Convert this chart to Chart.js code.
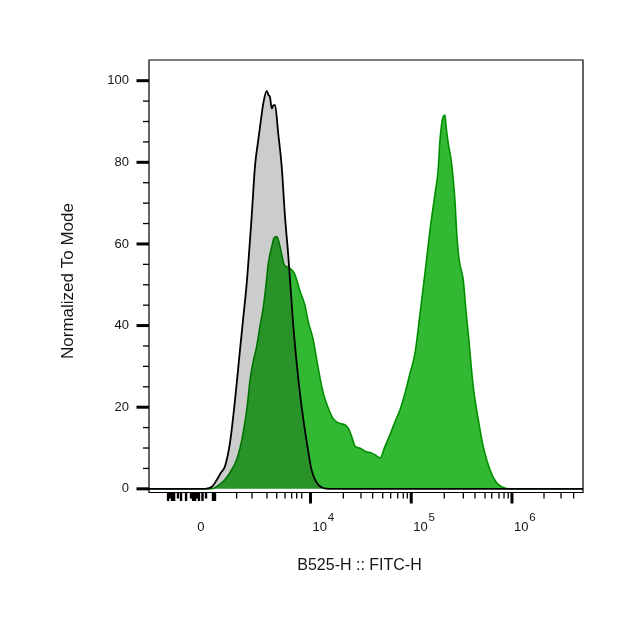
<!DOCTYPE html>
<html><head><meta charset="utf-8">
<script src="https://cdn.jsdelivr.net/npm/chart.js@4.4.1/dist/chart.umd.min.js"></script>
<style>html,body{margin:0;padding:0;background:#fff;}#wrap{width:644px;height:634px;}</style>
</head><body><div id="wrap"><canvas id="c" width="644" height="634"></canvas></div>
<script>
// x positions are in display (biexponential) units: 4 = 10^4, 5 = 10^5, 6 = 10^6
const xTickPos = [2.913, 4, 5, 6];
const xTickBase = ["0", "10", "10", "10"];
const xTickExp = ["", "4", "5", "6"];
const xMinorPos = [3.267, 3.419, 3.568, 3.665, 3.747, 3.813, 3.863, 3.913,
  4.326, 4.501, 4.617, 4.717, 4.796, 4.866, 4.921, 4.961,
  5.328, 5.517, 5.633, 5.732, 5.799, 5.871, 5.921, 5.963,
  6.318, 6.487, 6.612];
const xClusterPos = [2.586, 2.606, 2.626, 2.646, 2.685, 2.715, 2.765, 2.814, 2.834, 2.854, 2.874, 2.893, 2.928, 2.963, 3.032, 3.052];
const yTickVals = [0, 20, 40, 60, 80, 100];
const yMinorVals = [5, 10, 15, 25, 30, 35, 45, 50, 55, 65, 70, 75, 85, 90, 95];
const xTitle = "B525-H :: FITC-H";
const yTitle = "Normalized To Mode";

const grayX = [2.397, 2.953, 3.022, 3.072, 3.112, 3.151, 3.201, 3.251, 3.300, 3.333, 3.367, 3.416, 3.449, 3.479, 3.499, 3.532, 3.565, 3.583, 3.598, 3.615, 3.633, 3.648, 3.680, 3.714, 3.747, 3.780, 3.829, 3.879, 3.929, 3.975, 4.012, 4.062, 4.124, 4.194, 6.705];
const grayY = [0, 0, 0.5, 2.3, 4, 5.5, 11.3, 21.8, 34, 42, 50.4, 66.7, 79, 85, 88.7, 94.5, 97.5, 96.5, 96, 93.2, 94, 94, 87, 79, 66.7, 57, 40, 27, 17, 9.6, 4.5, 1.5, 0.2, 0, 0];

const greenX = [2.397, 3.022, 3.082, 3.151, 3.201, 3.267, 3.300, 3.333, 3.370, 3.400, 3.429, 3.466, 3.499, 3.532, 3.558, 3.581, 3.615, 3.638, 3.665, 3.687, 3.714, 3.737, 3.757, 3.787, 3.813, 3.846, 3.896, 3.945, 3.978, 4.028, 4.074, 4.127, 4.174, 4.226, 4.276, 4.342, 4.372, 4.409, 4.442, 4.491, 4.541, 4.607, 4.650, 4.690, 4.739, 4.789, 4.839, 4.888, 4.938, 4.988, 5.037, 5.087, 5.136, 5.186, 5.236, 5.266, 5.285, 5.305, 5.318, 5.335, 5.350, 5.368, 5.401, 5.434, 5.454, 5.477, 5.517, 5.543, 5.566, 5.616, 5.666, 5.715, 5.782, 5.848, 5.911, 5.980, 6.705];
const greenY = [0, 0, 0.8, 2.3, 4, 7.2, 10, 14, 20, 26.8, 31, 35, 40, 44.7, 50, 55.3, 59.4, 61.5, 61.8, 60.5, 57.5, 55, 54.5, 54.2, 53.7, 52.5, 48.5, 45, 41, 36.5, 30, 23.5, 20, 17.2, 16.2, 15.7, 15, 12.9, 10.5, 10, 9.2, 8.8, 8.2, 7.6, 10.4, 13.3, 16.5, 19.4, 23.5, 28.4, 33.3, 43, 52.9, 63.5, 72.4, 78, 85.5, 90, 91.2, 91.6, 88, 84.7, 79.8, 70.8, 62, 56, 51.2, 44, 38.2, 25.1, 17, 10.4, 4.7, 1.5, 0.4, 0, 0];

const FONT = "'Liberation Sans', Arial, Helvetica, sans-serif";
const TXT = '#151515';

const deco = {
  id: 'deco',
  beforeDatasetsDraw(chart) { chart.ctx.save(); chart.ctx.globalCompositeOperation = 'multiply'; },
  afterDatasetsDraw(chart) { chart.ctx.restore(); },
  afterDraw(chart) {
    const ctx = chart.ctx, a = chart.chartArea;
    const xs = chart.scales.x, ys = chart.scales.y;
    ctx.save();
    ctx.strokeStyle = '#000';
    // frame
    ctx.lineWidth = 1.2;
    ctx.beginPath();
    ctx.moveTo(a.left, a.top); ctx.lineTo(a.right, a.top); ctx.lineTo(a.right, a.bottom);
    ctx.lineTo(a.left, a.bottom); ctx.closePath(); ctx.stroke();
    // y ticks
    yTickVals.forEach(v => { const y = ys.getPixelForValue(v); ctx.lineWidth = 3; ctx.beginPath(); ctx.moveTo(a.left - 12.5, y); ctx.lineTo(a.left, y); ctx.stroke(); });
    yMinorVals.forEach(v => { const y = ys.getPixelForValue(v); ctx.lineWidth = 1.3; ctx.beginPath(); ctx.moveTo(a.left - 6, y); ctx.lineTo(a.left, y); ctx.stroke(); });
    // x ticks
    xTickPos.slice(1).forEach(v => { const x = xs.getPixelForValue(v); ctx.lineWidth = 3; ctx.beginPath(); ctx.moveTo(x, a.bottom); ctx.lineTo(x, a.bottom + 11); ctx.stroke(); });
    xMinorPos.forEach(v => { const x = xs.getPixelForValue(v); ctx.lineWidth = 1.3; ctx.beginPath(); ctx.moveTo(x, a.bottom); ctx.lineTo(x, a.bottom + 6); ctx.stroke(); });
    xClusterPos.forEach((v, i) => { const x = xs.getPixelForValue(v); ctx.lineWidth = 2.4; ctx.beginPath(); ctx.moveTo(x, a.bottom); ctx.lineTo(x, a.bottom + (i % 3 === 1 ? 6 : 8.5)); ctx.stroke(); });
    // x labels
    ctx.fillStyle = TXT;
    ctx.textBaseline = 'alphabetic';
    xTickPos.forEach((v, i) => {
      const x = xs.getPixelForValue(v);
      ctx.font = '13px ' + FONT;
      if (!xTickExp[i]) {
        ctx.textAlign = 'center';
        ctx.fillText(xTickBase[i], x, 530.5);
      } else {
        ctx.textAlign = 'left';
        const bx = x + 2;
        ctx.fillText(xTickBase[i], bx, 530.5);
        const w = ctx.measureText(xTickBase[i]).width;
        ctx.font = '11.5px ' + FONT;
        ctx.fillText(xTickExp[i], bx + w + 0.8, 521);
      }
    });
    // titles
    ctx.textAlign = 'center'; ctx.textBaseline = 'middle';
    ctx.font = '16px ' + FONT;
    ctx.fillText(xTitle, 359.5, 566);
    ctx.save();
    ctx.translate(68, 281); ctx.rotate(-Math.PI / 2);
    ctx.font = '17px ' + FONT;
    ctx.fillText(yTitle, 0, 0);
    ctx.restore();
    ctx.restore();
  }
};

new Chart(document.getElementById('c'), {
  type: 'line',
  data: {
    datasets: [
      { label: 'Control', data: grayX.map((x, i) => ({ x, y: grayY[i] })), borderColor: '#000', backgroundColor: 'rgb(204,204,204)', borderWidth: 1.8, fill: 'origin', pointRadius: 0, cubicInterpolationMode: 'monotone' },
      { label: 'FITC', data: greenX.map((x, i) => ({ x, y: greenY[i] })), borderColor: '#00a400', backgroundColor: '#33b833', borderWidth: 1.5, fill: 'origin', pointRadius: 0, cubicInterpolationMode: 'monotone' }
    ]
  },
  options: {
    responsive: false, animation: false,
    layout: { padding: { left: 0, right: 61, top: 60, bottom: 0 } },
    plugins: { legend: { display: false }, tooltip: { enabled: false } },
    scales: {
      x: { type: 'linear', min: 2.397, max: 6.705, grid: { display: false, drawTicks: false }, border: { display: false }, ticks: { display: false }, afterFit(s) { s.height = 141.5; } },
      y: { type: 'linear', min: -0.9, max: 105.07, grid: { display: false, drawTicks: false }, border: { display: false },
        ticks: { padding: 20, color: TXT, font: { family: FONT, size: 13 }, callback: v => String(v) },
        afterBuildTicks(s) { s.ticks = yTickVals.map(v => ({ value: v })); },
        afterFit(s) { s.width = 149; } }
    }
  },
  plugins: [deco]
});
</script></body></html>
